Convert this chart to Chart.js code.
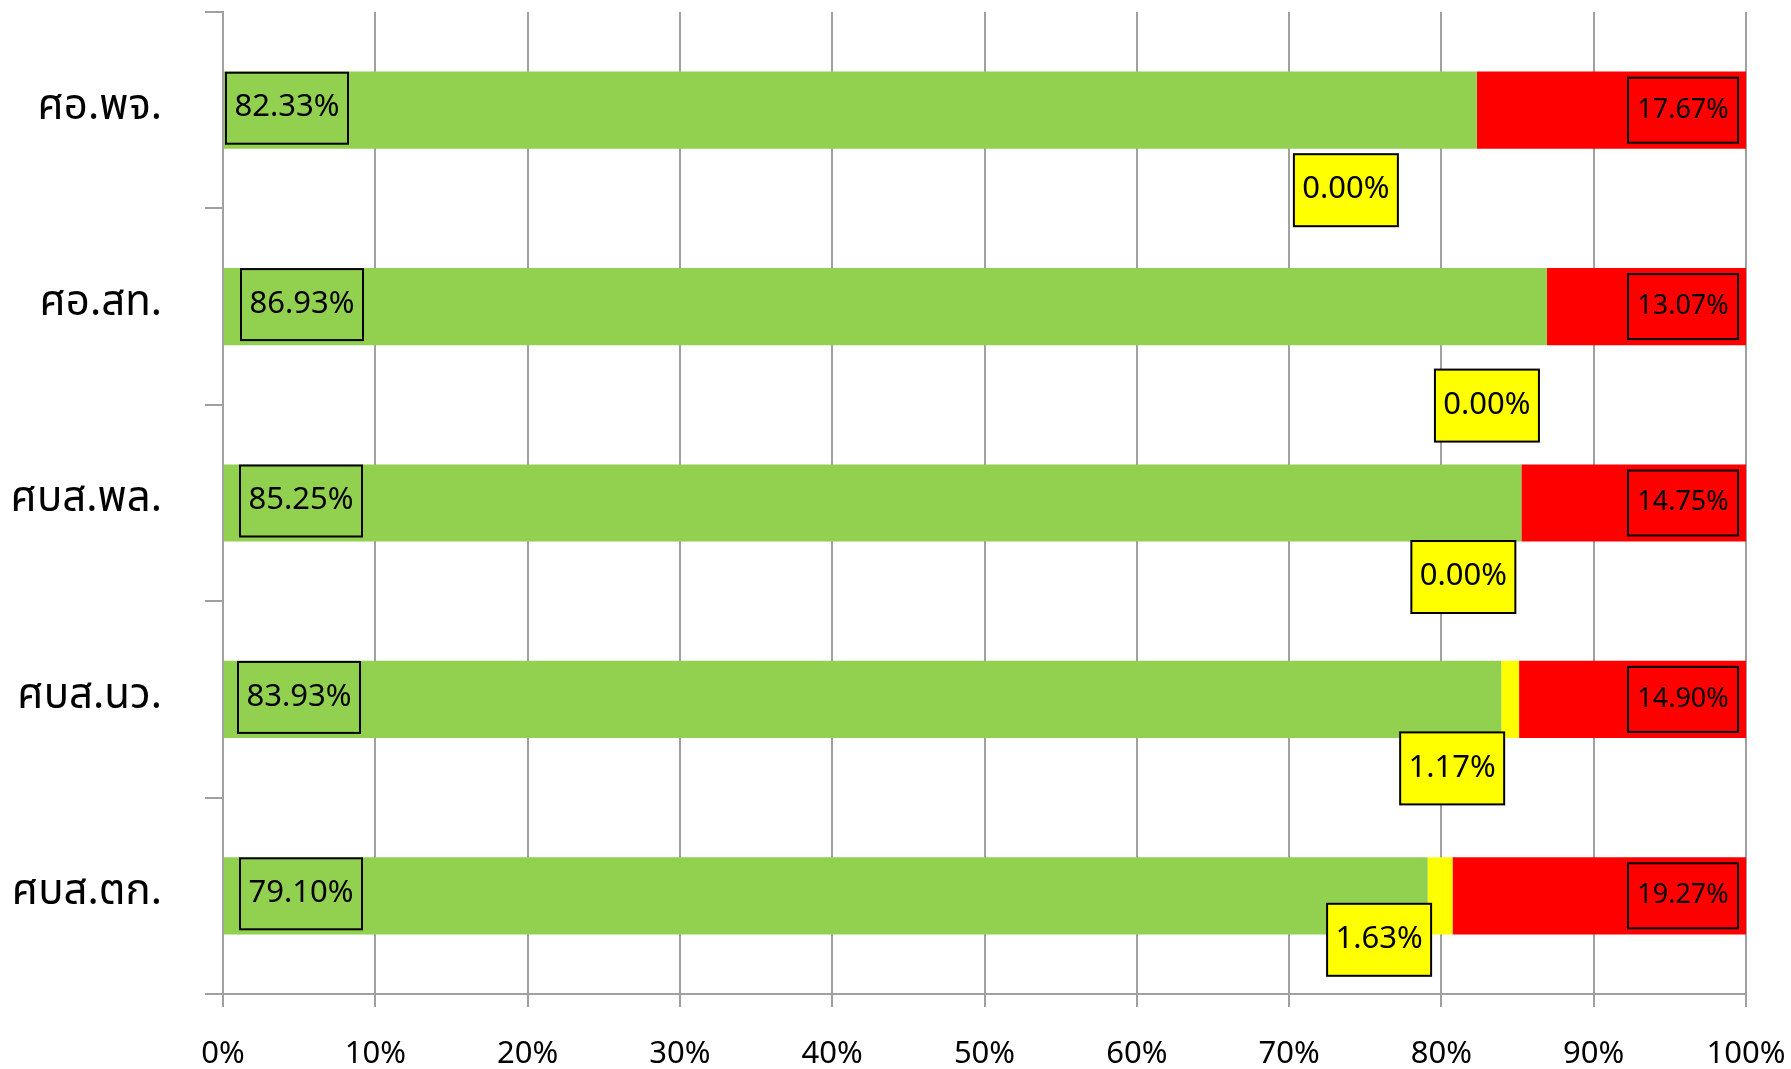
<!DOCTYPE html>
<html>
<head>
<meta charset="utf-8">
<script src="https://cdn.jsdelivr.net/npm/chart.js@4"></script>
<style>
  body { margin: 0; background: #fff; }
</style>
</head>
<body>
<canvas id="chart" width="1791" height="1069"></canvas>
<script>
// categories + values (percent)
var categories = ['ศอ.พจ.', 'ศอ.สท.', 'ศบส.พล.', 'ศบส.นว.', 'ศบส.ตก.'];
var passValues = [82.33, 86.93, 85.25, 83.93, 79.10];
var partValues = [0.00, 0.00, 0.00, 1.17, 1.63];
var failValues = [17.67, 13.07, 14.75, 14.90, 19.27];
var tickValues = [0, 10, 20, 30, 40, 50, 60, 70, 80, 90, 100];

// label placement (pixels) - the excel labels were dragged around by hand
var greenLabelDx  = [2, 17, 16, 14, 16];
var yellowLabelDx = [-131, -60, -58, -58, -61];
var yellowLabelDy = [80, 99, 74, 69, 44];

var FONT = "'Noto Sans Thai', Tahoma, 'Noto Sans', sans-serif";
Chart.defaults.font.family = FONT;
Chart.defaults.color = '#000';

function boxLabel(ctx, text, cx, cy, w, h, fill, size) {
    ctx.save();
    ctx.fillStyle = fill;
    ctx.fillRect(cx - w / 2, cy - h / 2, w, h);
    ctx.lineWidth = 2;
    ctx.strokeStyle = '#000';
    ctx.strokeRect(cx - w / 2, cy - h / 2, w, h);
    ctx.fillStyle = '#000';
    ctx.font = size + 'px ' + FONT;
    ctx.textAlign = 'center';
    ctx.textBaseline = 'middle';
    ctx.fillText(text, cx, cy + 2);
    ctx.restore();
}

var labelPlugin = {
    id: 'boxLabels',
    afterDatasetsDraw: function(chart) {
        var ctx = chart.ctx;
        var green  = chart.getDatasetMeta(0).data;
        var yellow = chart.getDatasetMeta(1).data;
        var red    = chart.getDatasetMeta(2).data;

        green.forEach(function(bar, i) {
            var x0 = Math.min(bar.x, bar.base);
            boxLabel(ctx, passValues[i].toFixed(2) + '%', x0 + greenLabelDx[i] + 61, bar.y - 2, 122, 71, '#92D050', 31);
        });
        yellow.forEach(function(bar, i) {
            var mid = (bar.x + bar.base) / 2;
            boxLabel(ctx, partValues[i].toFixed(2) + '%', mid + yellowLabelDx[i], bar.y + yellowLabelDy[i], 104, 72, '#FFFF00', 31);
        });
        red.forEach(function(bar, i) {
            var x1 = Math.max(bar.x, bar.base);
            boxLabel(ctx, failValues[i].toFixed(2) + '%', x1 - 8 - 55, bar.y, 110, 65, '#FF0000', 27);
        });
    }
};

var chart = new Chart(document.getElementById('chart'), {
    type: 'bar',
    plugins: [labelPlugin],
    data: {
        labels: categories,
        datasets: [
            { data: passValues, backgroundColor: '#92D050' },
            { data: partValues, backgroundColor: '#FFFF00' },
            { data: failValues, backgroundColor: '#FF0000' }
        ]
    },
    options: {
        indexAxis: 'y',
        responsive: false,
        animation: false,
        events: [],
        layout: { padding: { top: 12, right: 45, left: 0, bottom: 0 } },
        datasets: { bar: { categoryPercentage: 1, barPercentage: 0.393 } },
        plugins: { legend: { display: false }, tooltip: { enabled: false } },
        scales: {
            x: {
                stacked: true,
                min: 0,
                max: 100,
                afterBuildTicks: function(scale) {
                    scale.ticks = tickValues.map(function(v) { return { value: v }; });
                },
                afterFit: function(scale) {
                    scale.height = 75;
                    scale.paddingLeft = 0;
                    scale.paddingRight = 0;
                },
                ticks: {
                    padding: 31,
                    font: { size: 31 },
                    color: '#000',
                    maxRotation: 0,
                    callback: function(v) { return v + '%'; }
                },
                grid: { color: '#A0A0A0', lineWidth: 2, tickLength: 13 },
                border: { color: '#A0A0A0', width: 2 }
            },
            y: {
                stacked: true,
                afterFit: function(scale) {
                    scale.width = 223;
                    scale.paddingTop = 0;
                    scale.paddingBottom = 0;
                },
                ticks: { padding: 43, font: { size: 42 }, color: '#000' },
                grid: { drawOnChartArea: false, color: '#A0A0A0', lineWidth: 2, tickLength: 18, offset: true },
                border: { color: '#A0A0A0', width: 2 }
            }
        }
    }
});
</script>
</body>
</html>
